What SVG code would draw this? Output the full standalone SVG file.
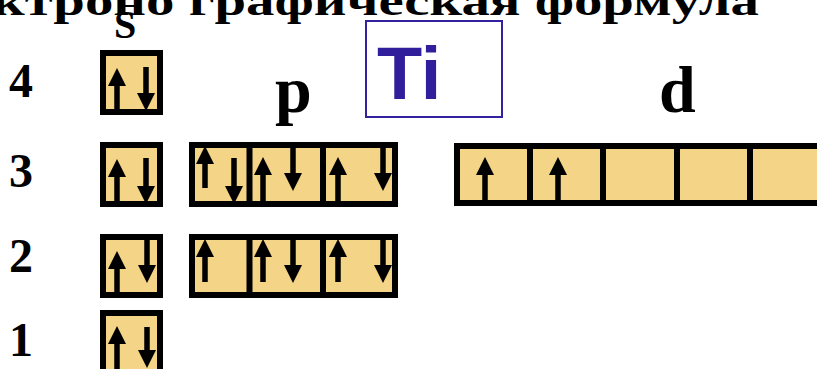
<svg xmlns="http://www.w3.org/2000/svg" width="817" height="369" viewBox="0 0 817 369">
<style>
.t{font-family:"Liberation Serif","Times New Roman",serif;font-weight:bold;fill:#000}
.cell{fill:#f4d486;stroke:#000;stroke-width:6}
.div{stroke:#000;stroke-width:6}
.ar{stroke:#000;stroke-width:5.5;marker-end:url(#head)}
</style>
<defs>
<marker id="head" markerUnits="userSpaceOnUse" markerWidth="18" markerHeight="18" refX="2" refY="9" orient="auto" viewBox="0 0 18 18">
<path d="M0,0 L18,9 L0,18 z" fill="#000"/>
</marker>
</defs>
<rect width="817" height="369" fill="#fff"/>
<g id="title"><text class="t" font-size="40" text-anchor="end" transform="translate(759,15) scale(1.42,1)">Электроно графическая формула</text></g>
<g id="labels">
<text class="t" x="114" y="38" font-size="40">S</text>
<text class="t" x="275" y="112" font-size="66">p</text>
<text class="t" x="659" y="112" font-size="66">d</text>
<text class="t" x="9" y="97" font-size="48">4</text>
<text class="t" x="9" y="187" font-size="48">3</text>
<text class="t" x="9" y="272" font-size="48">2</text>
<text class="t" x="9" y="356" font-size="48">1</text>
</g>
<g id="element">
<rect x="366" y="21" width="136" height="96" fill="#fff" stroke="#3322a0" stroke-width="2"/>
<text x="377" y="99" font-family="Liberation Sans, Arial, sans-serif" font-weight="bold" font-size="74" fill="#311e9b">Ti</text>
</g>
<g id="s4">
<rect class="cell" x="103" y="53" width="57" height="59"/>
<line class="ar" x1="117" y1="112" x2="117" y2="84"/>
<line class="ar" x1="146" y1="67" x2="146" y2="95"/>
</g>
<g id="s3">
<rect class="cell" x="103" y="145" width="57" height="59"/>
<line class="ar" x1="117" y1="204" x2="117" y2="175"/>
<line class="ar" x1="146" y1="158" x2="146" y2="188"/>
</g>
<g id="p3">
<rect class="cell" x="192" y="145" width="203" height="59"/>
<line class="div" x1="249.5" y1="145" x2="249.5" y2="204"/>
<line class="div" x1="323" y1="145" x2="323" y2="204"/>
<line class="ar" x1="205" y1="188" x2="205" y2="162"/>
<line class="ar" x1="234" y1="158" x2="234" y2="188"/>
<line class="ar" x1="263" y1="204" x2="263" y2="173"/>
<line class="ar" x1="293" y1="148" x2="293" y2="175"/>
<line class="ar" x1="338" y1="204" x2="338" y2="173"/>
<line class="ar" x1="383" y1="148" x2="383" y2="175"/>
</g>
<g id="d3">
<rect class="cell" x="457" y="146" width="380" height="57"/>
<line class="div" x1="530" y1="146" x2="530" y2="203"/>
<line class="div" x1="603" y1="146" x2="603" y2="203"/>
<line class="div" x1="677" y1="146" x2="677" y2="203"/>
<line class="div" x1="750" y1="146" x2="750" y2="203"/>
<line class="ar" x1="485" y1="203" x2="485" y2="173"/>
<line class="ar" x1="558" y1="203" x2="558" y2="173"/>
</g>
<g id="s2">
<rect class="cell" x="103" y="237" width="57" height="58"/>
<line class="ar" x1="117" y1="295" x2="117" y2="267"/>
<line class="ar" x1="147" y1="240" x2="147" y2="267"/>
</g>
<g id="p2">
<rect class="cell" x="192" y="237" width="203" height="58"/>
<line class="div" x1="249.5" y1="237" x2="249.5" y2="295"/>
<line class="div" x1="323" y1="237" x2="323" y2="295"/>
<line class="ar" x1="205" y1="282" x2="205" y2="255"/>
<line class="ar" x1="263" y1="282" x2="263" y2="255"/>
<line class="ar" x1="293" y1="240" x2="293" y2="267"/>
<line class="ar" x1="338" y1="282" x2="338" y2="255"/>
<line class="ar" x1="383" y1="240" x2="383" y2="267"/>
</g>
<g id="s1">
<rect class="cell" x="103" y="313" width="57" height="70"/>
<line class="ar" x1="117" y1="372" x2="117" y2="342"/>
<line class="ar" x1="147" y1="327" x2="147" y2="352"/>
</g>
</svg>
